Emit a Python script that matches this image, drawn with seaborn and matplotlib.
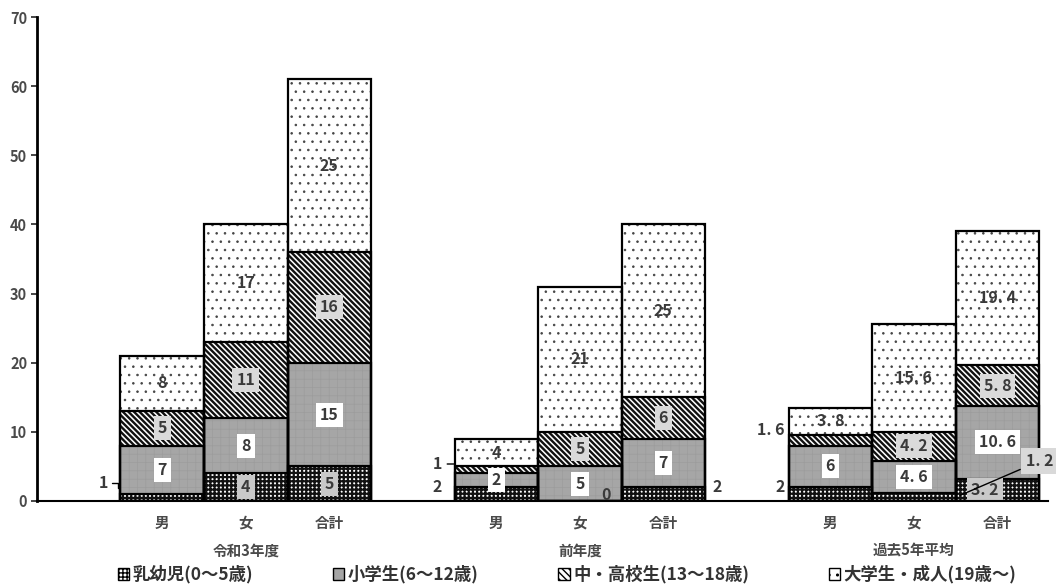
import numpy as np
import pandas as pd
import matplotlib
matplotlib.use("Agg")
import matplotlib.pyplot as plt
from matplotlib.patches import Patch
import seaborn as sns

# ---- data -------------------------------------------------------------
groups = ["令和3年度", "前年度", "過去5年平均"]
sexes = ["男", "女", "合計"]
layer_names = ["乳幼児(0～5歳)", "小学生(6～12歳)", "中・高校生(13～18歳)", "大学生・成人(19歳～)"]

# one value per bar, bars ordered 男/女/合計 within each period
infant = [1, 4, 5, 2, 0, 2, 2, 1.2, 3.2]
elementary = [7, 8, 15, 2, 5, 7, 6, 4.6, 10.6]
secondary = [5, 11, 16, 1, 5, 6, 1.6, 4.2, 5.8]
adult = [8, 17, 25, 4, 21, 25, 3.8, 15.6, 19.4]

# ---- styling ----------------------------------------------------------
sns.set_style("white")
plt.rcParams["font.family"] = ["Noto Sans CJK JP", "DejaVu Sans"]
plt.rcParams["font.weight"] = "bold"

layer_styles = [
    dict(color="white", hatch="++++", hatchcolor="#111111", hlw=1.6),   # 乳幼児
    dict(color="#a6a6a6", hatch="++", hatchcolor="#9c9c9c", hlw=0.5),  # 小学生
    dict(color="white", hatch="\\" * 6, hatchcolor="#111111", hlw=1.7), # 中・高校生
    dict(color="white", hatch="..", hatchcolor="#444444", hlw=0.6),    # 大学生・成人
]
legend_hatch = ["++++", None, "\\" * 5, ".."]
label_box = ["#c9c9c9", "white", "#dadada", None]
text_color = "#3a3a3a"


def fmt(v):
    return f"{v:g}".replace(".", ". ")


# ---- table ------------------------------------------------------------
slot = [g * 4 + i for g in range(len(groups)) for i in range(len(sexes))]
values = np.array([infant, elementary, secondary, adult])
cum = values.cumsum(axis=0)
df = pd.DataFrame({"pos": slot})
for k in range(len(layer_names)):
    df[f"top{k}"] = cum[k]

fig = plt.figure(figsize=(10.56, 5.85), dpi=100)
ax = fig.add_axes([0.035, 0.1436, 0.957, 0.8273])

# stacked bars: fill each cumulative height from the top layer downwards
for k in reversed(range(len(layer_names))):
    st = layer_styles[k]
    n_before = len(ax.patches)
    with plt.rc_context({"hatch.linewidth": st["hlw"]}):
        sns.barplot(data=df, x="pos", y=f"top{k}", native_scale=True, width=1.0,
                    color=st["color"], hatch=st["hatch"],
                    edgecolor=st["hatchcolor"], linewidth=0, errorbar=None,
                    saturation=1, ax=ax, zorder=2)
    for patch in ax.patches[n_before:]:
        if hasattr(patch, "set_hatch_linewidth"):
            patch.set_hatch_linewidth(st["hlw"])

# black outlines of every segment
for k in reversed(range(len(layer_names))):
    sns.barplot(data=df, x="pos", y=f"top{k}", native_scale=True, width=1.0,
                fill=False, color="black", linewidth=1.6, errorbar=None,
                saturation=1, ax=ax, zorder=3)

# value labels inside the segments
outside = {(0, 0), (3, 0), (3, 2), (4, 0), (5, 0), (6, 0), (6, 2), (7, 0)}
for b, p in enumerate(slot):
    for k in range(len(layer_names)):
        if (b, k) in outside:
            continue
        v = values[k][b]
        mid = cum[k][b] - v / 2
        x = p - 0.15 if (b, k) == (8, 0) else p
        box = label_box[k]
        bbox = None if box is None else dict(boxstyle="square,pad=0.25",
                                              facecolor=box, edgecolor="none")
        ax.text(x, mid, fmt(v), ha="center", va="center",
                fontsize=11.5, color=text_color, bbox=bbox, zorder=5)

# labels placed beside small segments: (bar, layer, dx, y, leader end or None, box)
side_labels = [
    (0, 0, -0.71, 2.6, (-0.53, 1.9), None),
    (3, 0, -0.71, 2.0, None, None),
    (3, 2, -0.70, 5.35, (-0.5, 5.35), None),
    (4, 0, 0.31, 0.9, None, None),
    (5, 0, 0.64, 2.0, None, None),
    (6, 0, -0.60, 2.0, None, None),
    (6, 2, -0.72, 10.3, None, None),
    (7, 0, 1.51, 5.8, (0.55, 0.8), "#d9d9d9"),
]
for b, k, dx, y, lead, box in side_labels:
    v = values[k][b]
    p = slot[b]
    bbox = None if box is None else dict(boxstyle="square,pad=0.3",
                                          facecolor=box, edgecolor="none")
    if lead is None:
        ax.text(p + dx, y, fmt(v), ha="center", va="center",
                fontsize=11.5, color=text_color, bbox=bbox, zorder=5)
    else:
        cs = "angle,angleA=0,angleB=90" if b == 0 else "arc3"
        ax.annotate(fmt(v), xy=(p + lead[0], lead[1]),
                    xytext=(p + dx, y), ha="center", va="center",
                    fontsize=11.5, color=text_color, bbox=bbox, zorder=5,
                    arrowprops=dict(arrowstyle="-", color="black", lw=1,
                                    shrinkA=1, shrinkB=0, connectionstyle=cs))

# ---- axes -------------------------------------------------------------
ax.set_xlim(-1.5, 10.6)
ax.set_ylim(0, 70)
ax.set_yticks(range(0, 71, 10))
ax.set_xticks(slot)
ax.set_xticklabels(sexes * len(groups))
ax.set_xlabel("")
ax.set_ylabel("")
ax.tick_params(axis="y", length=4, width=1.2, direction="out", pad=3,
               labelsize=10.5, labelcolor="#4a4a4a", left=True)
ax.tick_params(axis="x", length=0, pad=10, labelsize=10.5, labelcolor="#4a4a4a")
for lab in ax.get_xticklabels() + ax.get_yticklabels():
    lab.set_fontweight("bold")
sns.despine(ax=ax, top=True, right=True)
ax.spines["left"].set_linewidth(2)
ax.spines["left"].set_color("black")
ax.spines["bottom"].set_linewidth(1.5)
ax.spines["bottom"].set_color("black")
ax.spines["bottom"].set_zorder(6)

for g, name in enumerate(groups):
    ax.text(g * 4 + 1, -0.103, name, transform=ax.get_xaxis_transform(),
            ha="center", va="center", fontsize=10.5, color="#4a4a4a",
            fontweight="bold")

handles = [Patch(facecolor=st["color"], hatch=h, edgecolor="black", linewidth=1)
           for st, h in zip(layer_styles, legend_hatch)]
fig.legend(handles, layer_names, loc="center", bbox_to_anchor=(0.537, 0.018),
           ncol=4, frameon=False, handlelength=0.65, handleheight=0.65,
           handletextpad=0.2, columnspacing=4.6,
           labelcolor="#333333", prop={"weight": "bold", "size": 12.5})

fig.savefig("out.png", dpi=100)
